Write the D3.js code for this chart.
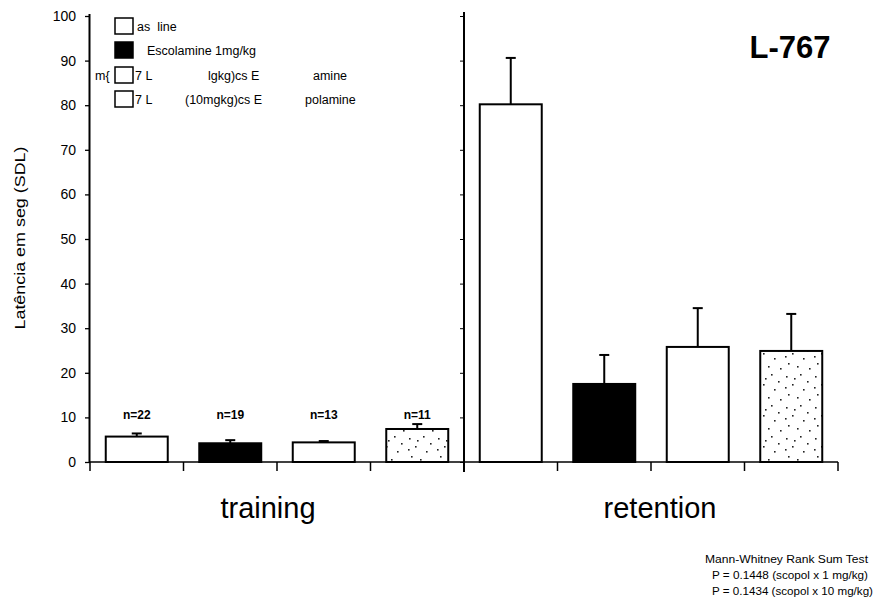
<!DOCTYPE html>
<html><head><meta charset="utf-8">
<script src="https://cdn.jsdelivr.net/npm/d3@7"></script>
<style>
body{margin:0;background:#fff;}
svg{display:block;font-family:"Liberation Sans",Arial,sans-serif;}
</style></head>
<body><svg id="c" width="876" height="608"></svg>
<script>
// ---- data ----
const phases = ["training", "retention"];
const groups = ["Baseline", "Escolamine 1mg/kg", "L-767 + Escopolamine 1mg/kg", "L-767 + Escopolamine 10mg/kg"];
const trainingMeans = [5.7, 4.2, 4.4, 7.4];
const trainingErr   = [0.7, 0.7, 0.3, 1.1];
const retentionMeans = [80.2, 17.5, 25.8, 24.9];
const retentionErr   = [10.4, 6.5, 8.7, 8.3];
const nLabels = ["n=22", "n=19", "n=13", "n=11"];
const yTicks = [0, 10, 20, 30, 40, 50, 60, 70, 80, 90, 100];
const title = "L-767";
const yLabel = "Latência em seg (SDL)";
const footLines = ["Mann-Whitney Rank Sum Test", "P = 0.1448 (scopol x 1 mg/kg)", "P = 0.1434 (scopol x 10 mg/kg)"];
const legendRows = [
  [{t: "as  line", x: 137}],
  [{t: "Escolamine 1mg/kg", x: 147}],
  [{t: "m{", x: 95}, {t: "7 L", x: 135}, {t: "lgkg)cs E", x: 208}, {t: "amine", x: 313}],
  [{t: "7 L", x: 135}, {t: "(10mgkg)cs E", x: 185}, {t: "polamine", x: 305}]
];

// ---- build rows ----
const rows = [];
phases.forEach((p, pi) => {
  const m = pi === 0 ? trainingMeans : retentionMeans;
  const e = pi === 0 ? trainingErr : retentionErr;
  groups.forEach((g, gi) => rows.push({key: p + "|" + gi, phase: p, gi, mean: m[gi], err: e[gi]}));
});

const svg = d3.select("#c");
const defs = svg.append("defs");
const pat = defs.append("pattern").attr("id", "stip").attr("patternUnits", "userSpaceOnUse")
  .attr("width", 29).attr("height", 31);
pat.append("rect").attr("width", 29).attr("height", 31).attr("fill", "#fff");
[[3,4],[17,2],[24,9],[9,12],[20,17],[5,22],[14,25],[26,27],[11,6],[2,15]].forEach(d =>
  pat.append("rect").attr("x", d[0]).attr("y", d[1]).attr("width", 1.6).attr("height", 1.6).attr("fill", "#222"));

const fills = ["#fff", "#000", "#fff", "url(#stip)"];

const x = d3.scaleBand().domain(rows.map(d => d.key)).range([90, 838]).paddingInner(0.337).paddingOuter(0.1685);
const y = d3.scaleLinear().domain([0, 100]).range([462, 16]);
const step = x.step();

// y axis
const ya = svg.append("g").attr("transform", "translate(90,0)")
  .call(d3.axisLeft(y).tickValues(yTicks).tickSize(5).tickPadding(9));
ya.select(".domain").attr("stroke-width", 2).attr("d", `M-0.5,${y(100)-2}V${y(0)}`);
ya.selectAll(".tick line").attr("stroke-width", 1.3);
ya.selectAll(".tick text").attr("font-size", 14).attr("fill", "#000");

// divider axis
const divX = x(rows[4].key) - step * 0.337 / 2;
const da = svg.append("g").attr("transform", `translate(${divX},0)`)
  .call(d3.axisLeft(y).tickValues(yTicks).tickSize(4).tickFormat(""));
da.select(".domain").attr("stroke-width", 2).attr("d", `M0,${y(100)-4}V${y(0)+10}`);

// x axis baseline & ticks
svg.append("line").attr("x1", 90).attr("x2", 838).attr("y1", y(0)).attr("y2", y(0)).attr("stroke", "#000").attr("stroke-width", 1.5);
const bounds = rows.map(d => x(d.key) - step * 0.337 / 2).concat([x(rows[7].key) + x.bandwidth() + step * 0.337 / 2]);
svg.selectAll(".xt").data(bounds).join("line")
  .attr("x1", d => d).attr("x2", d => d).attr("y1", y(0)).attr("y2", y(0) + 9)
  .attr("stroke", "#000").attr("stroke-width", 1.5);

// bars
svg.selectAll(".bar").data(rows).join("rect")
  .attr("x", d => x(d.key)).attr("width", x.bandwidth())
  .attr("y", d => y(d.mean)).attr("height", d => y(0) - y(d.mean))
  .attr("fill", d => fills[d.gi]).attr("stroke", "#000").attr("stroke-width", 2);

// error bars
const eb = svg.selectAll(".eb").data(rows).join("g");
eb.append("line").attr("x1", d => x(d.key) + x.bandwidth() / 2).attr("x2", d => x(d.key) + x.bandwidth() / 2)
  .attr("y1", d => y(d.mean)).attr("y2", d => y(d.mean + d.err)).attr("stroke", "#000").attr("stroke-width", 2);
eb.append("line").attr("x1", d => x(d.key) + x.bandwidth() / 2 - 5).attr("x2", d => x(d.key) + x.bandwidth() / 2 + 5)
  .attr("y1", d => y(d.mean + d.err)).attr("y2", d => y(d.mean + d.err)).attr("stroke", "#000").attr("stroke-width", 2);

// n labels
svg.selectAll(".nl").data(rows.filter(d => d.phase === "training")).join("text")
  .attr("x", d => x(d.key) + x.bandwidth() / 2).attr("y", 419).attr("text-anchor", "middle")
  .attr("font-size", 12).attr("font-weight", "bold").text(d => nLabels[d.gi]);

// phase labels
svg.selectAll(".pl").data(phases).join("text")
  .attr("x", (d, i) => i === 0 ? 268 : 660).attr("y", 518).attr("text-anchor", "middle")
  .attr("font-size", 29).text(d => d);

// title
svg.append("text").attr("x", 790).attr("y", 58).attr("text-anchor", "middle")
  .attr("font-size", 31).attr("font-weight", "bold").text(title);

// y label
svg.append("text").attr("transform", "translate(25,238) rotate(-90)").attr("text-anchor", "middle")
  .attr("font-size", 15).attr("textLength", 183).attr("lengthAdjust", "spacingAndGlyphs").text(yLabel);

// legend
const swTop = [18, 42, 67, 91];
const leg = svg.selectAll(".lg").data(groups).join("g");
leg.append("rect").attr("x", 115).attr("y", (d, i) => swTop[i]).attr("width", 18).attr("height", 16)
  .attr("fill", (d, i) => i === 3 ? "#fff" : fills[i]).attr("stroke", "#000").attr("stroke-width", 1.5);
legendRows.forEach((r, i) => {
  r.forEach(p => svg.append("text").attr("x", p.x).attr("y", swTop[i] + 13).attr("font-size", 12.5)
    .attr("xml:space", "preserve").text(p.t));
});

// footnote
const fx = [705, 712, 712], fl = [163, 156, 161];
footLines.forEach((t, i) => svg.append("text").attr("x", fx[i]).attr("y", 563 + i * 16)
  .attr("font-size", 10).attr("textLength", fl[i]).attr("lengthAdjust", "spacingAndGlyphs").text(t));
</script></body></html>
